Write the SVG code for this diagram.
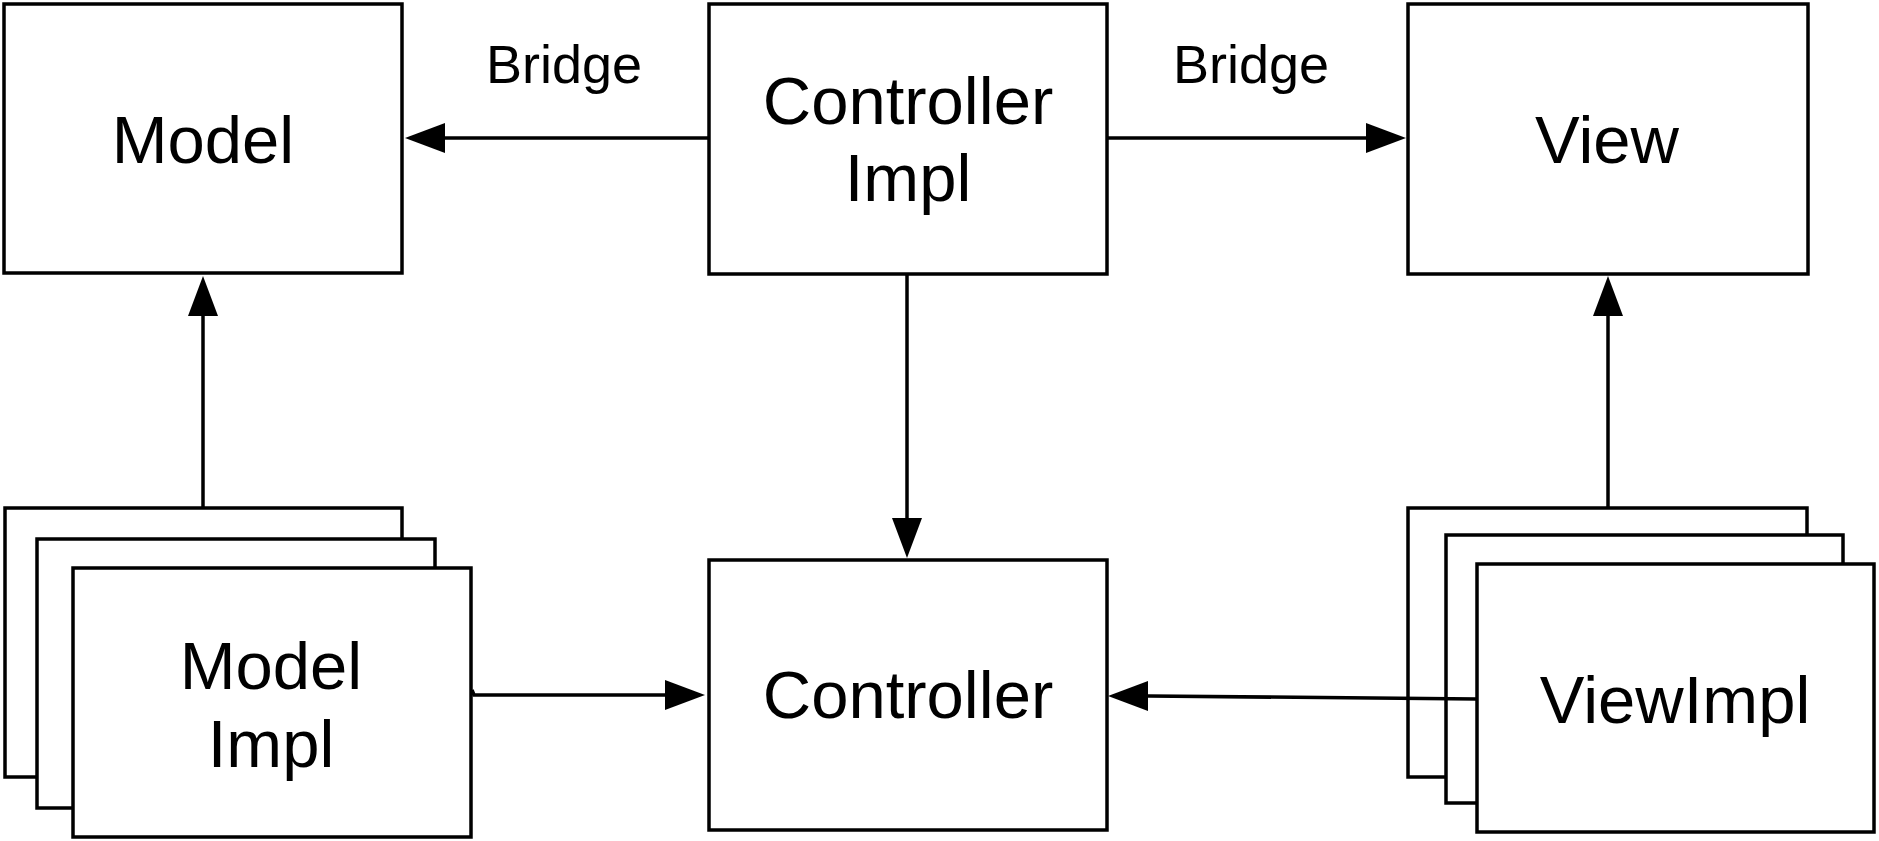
<svg xmlns="http://www.w3.org/2000/svg" width="1879" height="841" viewBox="0 0 1879 841">
<style>
.box{fill:#fff;stroke:#000;stroke-width:3.5}
.lbl{font-family:"Liberation Sans",Arial,Helvetica,sans-serif;font-size:67px;fill:#000;text-anchor:middle}
.edge{font-family:"Liberation Sans",Arial,Helvetica,sans-serif;font-size:54px;fill:#000;text-anchor:middle}
.conn{fill:none;stroke:#000;stroke-width:3.5}
</style>
<defs>
<marker id="arr" viewBox="0 0 40 30" refX="30" refY="15" markerWidth="40" markerHeight="30" markerUnits="userSpaceOnUse" orient="auto">
<path d="M0,0 L40,15 L0,30 Z" fill="#000"/>
</marker>
</defs>
<rect width="1879" height="841" fill="#fff"/>
<g id="model">
<rect class="box" x="4" y="4" width="398" height="269"/>
<text class="lbl" x="203" y="163">Model</text>
</g>
<g id="controller-impl">
<rect class="box" x="709" y="4" width="398" height="270"/>
<text class="lbl" x="908" y="124">Controller</text>
<text class="lbl" x="908" y="201">Impl</text>
</g>
<g id="view">
<rect class="box" x="1408" y="4" width="400" height="270"/>
<text class="lbl" x="1607" y="163">View</text>
</g>
<g id="controller">
<rect class="box" x="709" y="560" width="398" height="270"/>
<text class="lbl" x="908" y="718">Controller</text>
</g>
<g id="model-impl">
<rect class="box" x="5" y="508" width="397" height="269"/>
<rect class="box" x="37" y="539" width="398" height="269"/>
<rect class="box" x="73" y="568" width="398" height="269"/>
<text class="lbl" x="271" y="689">Model</text>
<text class="lbl" x="271" y="767">Impl</text>
</g>
<g id="view-impl">
<rect class="box" x="1408" y="508" width="399" height="269"/>
<rect class="box" x="1446" y="535" width="397" height="268"/>
<rect class="box" x="1477" y="564" width="397" height="268"/>
<text class="lbl" x="1675" y="723">ViewImpl</text>
</g>
<g id="connectors">
<path class="conn" d="M709,138 L415,138" marker-end="url(#arr)"/>
<path class="conn" d="M1107,138 L1396,138" marker-end="url(#arr)"/>
<path class="conn" d="M907,274 L907,548" marker-end="url(#arr)"/>
<path class="conn" d="M203,508 L203,286" marker-end="url(#arr)"/>
<path class="conn" d="M1608,508 L1608,286" marker-end="url(#arr)"/>
<path class="conn" d="M472,690 L474,695 L695,695" marker-end="url(#arr)"/>
<path class="conn" d="M1477,699 L1149,696 L1118,696" marker-end="url(#arr)"/>
<text class="edge" x="564" y="83">Bridge</text>
<text class="edge" x="1251" y="83">Bridge</text>
</g>
</svg>
